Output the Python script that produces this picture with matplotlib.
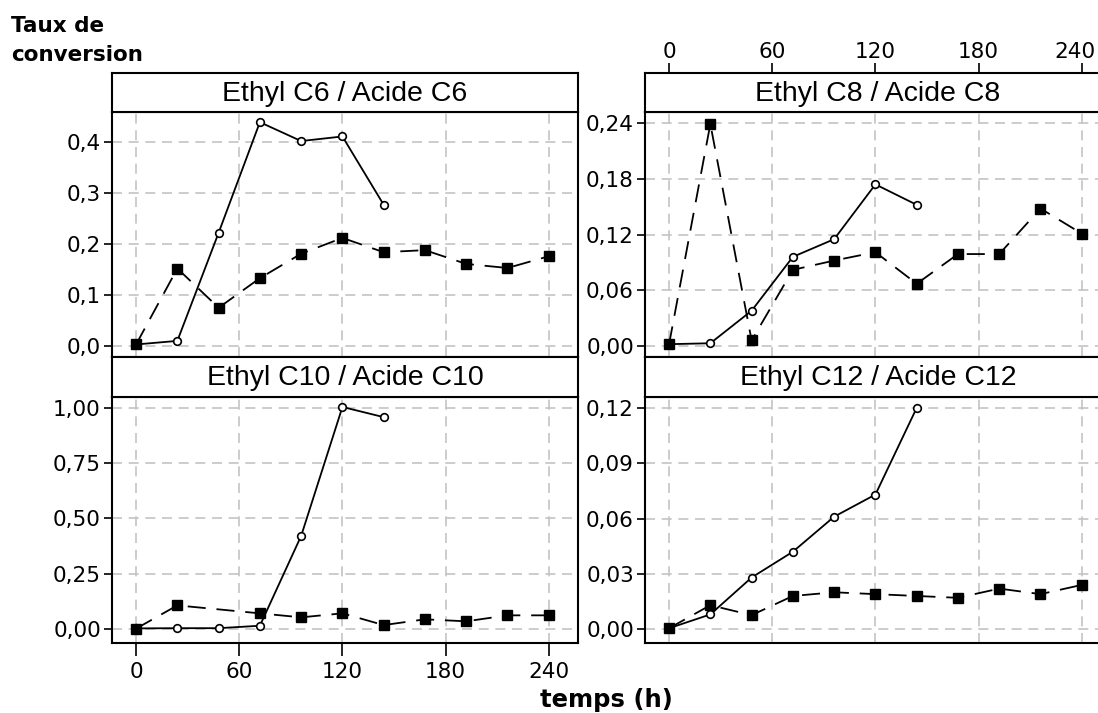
import matplotlib
matplotlib.use("Agg")
import matplotlib.pyplot as plt
from matplotlib.transforms import ScaledTranslation

# sampling times (h)
temps = [0, 24, 48, 72, 96, 120, 144, 168, 192, 216, 240]

c6_ethyl = [0.003, 0.010, 0.222, 0.439, 0.402, 0.411, 0.277, None, None, None, None]
c6_acide = [0.003, 0.152, 0.075, 0.133, 0.181, 0.212, 0.184, 0.188, 0.161, 0.153, 0.176]
c8_ethyl = [0.002, 0.003, 0.038, 0.096, 0.115, 0.174, 0.152, None, None, None, None]
c8_acide = [0.002, 0.239, 0.006, 0.082, 0.092, 0.101, 0.067, 0.099, 0.099, 0.148, 0.121]
c10_ethyl = [0.003, 0.004, 0.004, 0.015, 0.421, 1.004, 0.958, None, None, None, None]
c10_acide = [0.002, 0.107, None, 0.071, 0.053, 0.071, 0.018, 0.044, 0.035, 0.062, 0.062]
c12_ethyl = [0.0005, 0.008, 0.028, 0.042, 0.061, 0.073, 0.120, None, None, None, None]
c12_acide = [0.0005, 0.013, 0.0076, 0.018, 0.020, 0.019, 0.018, 0.017, 0.022, 0.019, 0.024]

titles = ["Ethyl C6 / Acide C6", "Ethyl C8 / Acide C8",
          "Ethyl C10 / Acide C10", "Ethyl C12 / Acide C12"]
x_ticks = [0, 60, 120, 180, 240]
y_ticks = [[0.0, 0.1, 0.2, 0.3, 0.4],
           [0.0, 0.06, 0.12, 0.18, 0.24],
           [0.0, 0.25, 0.5, 0.75, 1.0],
           [0.0, 0.03, 0.06, 0.09, 0.12]]
y_labels = [["0,0", "0,1", "0,2", "0,3", "0,4"],
            ["0,00", "0,06", "0,12", "0,18", "0,24"],
            ["0,00", "0,25", "0,50", "0,75", "1,00"],
            ["0,00", "0,03", "0,06", "0,09", "0,12"]]
y_lims = [(-0.0216, 0.459), (-0.0118, 0.2519), (-0.063, 1.049), (-0.0075, 0.1259)]
x_lim = (-14, 257)

W, H = 1098, 713
fig = plt.figure(figsize=(W / 100, H / 100), dpi=100)


def rect(x0, y0, x1, y1):
    # pixel box (top-left origin) -> figure fraction
    return [x0 / W, 1 - y1 / H, (x1 - x0) / W, (y1 - y0) / H]


def split(vals):
    # drop missing measurements so the line joins the neighbours
    xs = [t for t, v in zip(temps, vals) if v is not None]
    ys = [v for v in vals if v is not None]
    return xs, ys


cols = [(112, 578), (645, 1111)]
rows = [(73, 112, 357), (357, 397, 643)]
series = [(c6_ethyl, c6_acide), (c8_ethyl, c8_acide),
          (c10_ethyl, c10_acide), (c12_ethyl, c12_acide)]

for i in range(4):
    r, c = divmod(i, 2)
    x0, x1 = cols[c]
    s0, s1, p1 = rows[r]

    ax = fig.add_axes(rect(x0, s1, x1, p1))
    strip = fig.add_axes(rect(x0, s0, x1, s1))

    ethyl, acide = series[i]
    xe, ye = split(ethyl)
    xa, ya = split(acide)
    ax.plot(xe, ye, color="black", lw=1.3, marker="o", ms=5.5,
            mfc="white", mec="black", mew=1.2, zorder=3)
    ax.plot(xa, ya, color="black", lw=1.3, ls=(0, (10, 6)), marker="s", ms=6.5,
            mfc="black", mec="black", zorder=4)

    ax.set_xlim(*x_lim)
    ax.set_ylim(*y_lims[i])
    ax.set_xticks(x_ticks)
    ax.set_yticks(y_ticks[i])
    ax.set_yticklabels(y_labels[i])
    ax.grid(True, color="#c4c4c4", lw=1.2, ls=(0, (6, 4)), zorder=0)
    ax.tick_params(axis="y", direction="out", length=6, width=1.2,
                   labelsize=15.5, pad=2)
    if i == 2:
        ax.set_xticklabels([str(t) for t in x_ticks])
        ax.tick_params(axis="x", direction="out", length=9, width=1.2,
                       labelsize=15.5, pad=5)
    else:
        ax.tick_params(axis="x", length=0, labelbottom=False)
    for sp in ax.spines.values():
        sp.set_linewidth(1.5)

    # panel title strip
    strip.set_xlim(*x_lim)
    strip.set_yticks([])
    strip.text(0.5, 0.47, titles[i], transform=strip.transAxes,
               ha="center", va="center", fontsize=20.5,
               family="Liberation Sans")
    if i == 1:
        strip.set_xticks(x_ticks)
        strip.set_xticklabels([str(t) for t in x_ticks])
        strip.tick_params(axis="x", direction="out", length=7, width=1.2,
                          labelsize=15.5, pad=1, top=True, labeltop=True,
                          bottom=False, labelbottom=False)
        # last label sits at the figure edge, nudge it inwards a bit
        tick = strip.xaxis.get_major_ticks()[-1]
        tick.label2.set_transform(tick.label2.get_transform()
                                  + ScaledTranslation(-5 / 72, 0, fig.dpi_scale_trans))
    else:
        strip.set_xticks([])
    for sp in strip.spines.values():
        sp.set_linewidth(1.5)

fig.text(11 / W, 1 - 26 / H, "Taux de", fontsize=15.5, fontweight="bold",
         ha="left", va="center")
fig.text(11 / W, 1 - 55 / H, "conversion", fontsize=15.5, fontweight="bold",
         ha="left", va="center")
fig.text(606 / W, 1 - 700 / H, "temps (h)", fontsize=17.5, fontweight="heavy",
         ha="center", va="center")

fig.savefig("out.png", dpi=100)
